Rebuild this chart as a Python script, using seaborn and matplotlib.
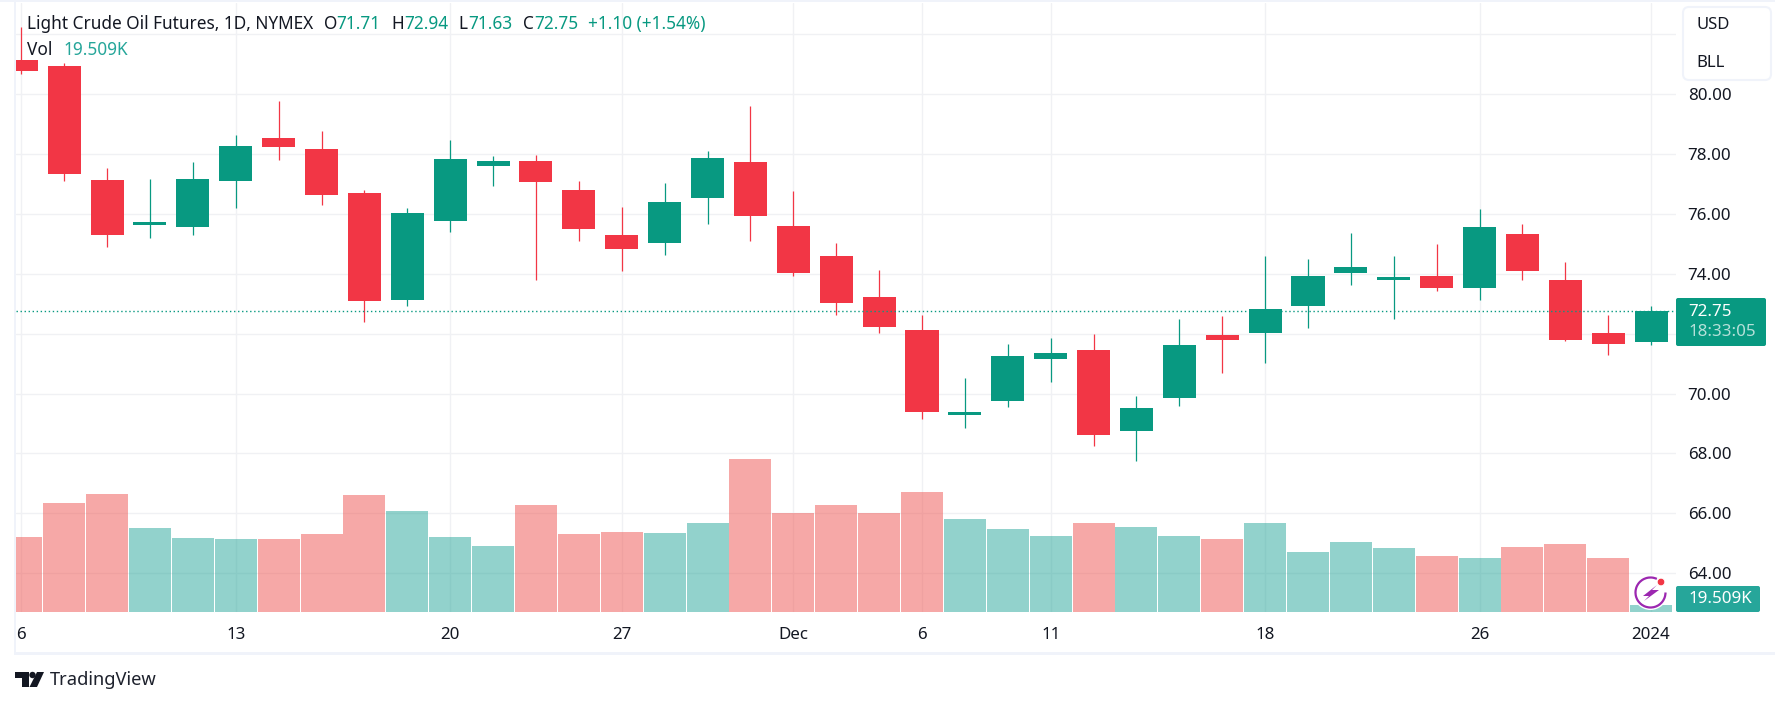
import numpy as np
import pandas as pd
import seaborn as sns
import matplotlib
matplotlib.use("Agg")
import matplotlib.pyplot as plt
from matplotlib.patches import Rectangle, FancyBboxPatch, Polygon, Circle, Arc
from matplotlib.transforms import Affine2D

W, H = 1775, 707

# ohlc, oldest first
opens = [81.14, 80.94, 77.14, 75.64, 75.58, 77.11, 78.54, 78.18, 76.71, 73.11, 75.78, 77.61, 77.78,
         76.81, 75.31, 75.04, 76.54, 77.74, 75.61, 74.61, 73.24, 72.11, 69.28, 69.74, 71.14, 71.44,
         68.74, 69.84, 71.94, 72.04, 72.91, 74.04, 73.81, 73.94, 73.54, 75.34, 73.81, 72.01, 71.71]
highs = [82.23, 81.04, 77.54, 77.18, 77.74, 78.64, 79.78, 78.78, 76.81, 76.21, 78.48, 77.94, 77.98,
         77.11, 76.24, 77.04, 78.11, 79.61, 76.78, 75.04, 74.14, 72.61, 70.51, 71.64, 71.84, 71.98,
         69.91, 72.48, 72.58, 74.61, 74.48, 75.38, 74.61, 75.01, 76.18, 75.68, 74.41, 72.64, 72.94]
lows = [80.69, 77.11, 74.91, 75.21, 75.31, 76.21, 77.81, 76.31, 72.38, 72.94, 75.41, 76.94, 73.81,
        75.08, 74.08, 74.64, 75.68, 75.08, 73.94, 72.64, 72.04, 69.14, 68.84, 69.54, 70.38, 68.24,
        67.74, 69.58, 70.68, 71.01, 72.18, 73.61, 72.48, 73.41, 73.14, 73.78, 71.74, 71.29, 71.63]
closes = [80.78, 77.34, 75.31, 75.74, 77.18, 78.28, 78.24, 76.64, 73.08, 76.04, 77.84, 77.78, 77.08,
          75.51, 74.84, 76.41, 77.88, 75.94, 74.04, 73.04, 72.24, 69.38, 69.38, 71.24, 71.34, 68.61,
          69.51, 71.61, 71.78, 72.84, 73.94, 74.24, 73.91, 73.54, 75.58, 74.11, 71.78, 71.64, 72.75]
# volume in thousands
volumes = [209, 304, 329, 234, 206, 203, 203, 217, 326, 281, 209, 184, 298, 217, 223, 220, 248, 426, 276,
           298, 276, 334, 259, 231, 212, 248, 237, 212, 203, 248, 167, 195, 178, 156, 150, 181, 190, 150, 19.509]

date_ticks = [0, 5, 10, 14, 18, 21, 24, 29, 34, 38]
date_labels = ["6", "13", "20", "27", "Dec", "6", "11", "18", "26", "2024"]
price_ticks = [64, 66, 68, 70, 72, 74, 76, 78, 80, 82]
# 72 sits behind the last price tag and 82 behind the currency box
hidden_price_labels = [72, 82]
last_price = 72.75

RED = "#f23645"
GREEN = "#089981"
VOL_RED = "#ef5350"
VOL_GREEN = "#26a69a"
INK = "#131722"
GRID = "#f0f1f4"
FRAME = "#f0f3fa"

sns.set_theme(style="white")
plt.rcParams["font.family"] = ["Noto Sans", "DejaVu Sans"]

df = pd.DataFrame({"o": opens, "h": highs, "l": lows, "c": closes, "v": volumes})
df["i"] = np.arange(len(df))
df["up"] = df["c"] >= df["o"]
df["side"] = np.where(df["up"], "up", "down")

fig = plt.figure(figsize=(W / 100, H / 100), dpi=100, facecolor="white")
# pane in pixels: x 16..1676, y 3..612
L, R, T, B = 16, 1676, 3, 612
ax = fig.add_axes([L / W, 1 - B / H, (R - L) / W, (B - T) / H])

# pixel coordinates, origin top left, for the page furniture
page = Affine2D().scale(1, -1).translate(0, H)


def txt(x, y, s, color=INK, size=12.2, **kw):
    kw.setdefault("va", "center")
    fig.text(x, y, s, color=color, fontsize=size, transform=page, **kw)


# price pane
for _, row in df.iterrows():
    col = GREEN if row["up"] else RED
    ax.vlines(row["i"], row["l"], row["h"], color=col, lw=0.9, zorder=3)
    ax.bar(row["i"], abs(row["c"] - row["o"]), bottom=min(row["o"], row["c"]), width=0.77,
           color=col, linewidth=0, zorder=4)
ax.axhline(last_price, color=GREEN, lw=1.0, ls=(0, (1, 1.9)), zorder=5)

ax.set_yticks(price_ticks)
ax.set_yticklabels(["" if p in hidden_price_labels else f"{p:.2f}" for p in price_ticks], fontsize=12.2, color=INK)
ax.grid(True, color=GRID, lw=1)
ax.set_axisbelow(True)
for s in ax.spines.values():
    s.set_visible(False)

# volume on a hidden scale, sits over the grid so the lines show through
vax = ax.twinx()
sns.barplot(data=df, x="i", y="v", hue="side", hue_order=["down", "up"], native_scale=True, dodge=False,
            palette={"down": VOL_RED, "up": VOL_GREEN}, saturation=1, alpha=0.5, width=0.978, linewidth=0,
            errorbar=None, legend=False, ax=vax)
vax.set_ylim(0, (B - T) * 2.787)
vax.set_yticks([])
vax.set_ylabel("")
vax.set_xlabel("")
for s in vax.spines.values():
    s.set_visible(False)

# twinx moves the price labels to the left, put them back
ax.yaxis.tick_right()
ax.tick_params(axis="y", length=0, pad=8.4)
ax.tick_params(axis="x", length=0, pad=11, labelsize=12.2, labelcolor=INK)

ax.set_xlim((L - 21.3) / 42.89, (R - 21.3) / 42.89)
ax.set_ylim(82 - (B - 34.3) / 29.94, 82 + (34.3 - T) / 29.94)
ax.set_xticks(date_ticks)
ax.set_xticklabels(date_labels)
for lab in ax.get_xticklabels():
    if lab.get_text() == "2024":
        lab.set_fontweight("bold")
ax.set_xlabel("")

# frame bands
for x, y, w, h in [(0, 0, W, 2), (14, 0, 2, 654), (14, 652, W - 14, 3)]:
    fig.add_artist(Rectangle((x, y), w, h, color=FRAME, lw=0, transform=page))

# header
hs = 12.4
txt(27, 24, "Light Crude Oil Futures, 1D, NYMEX", size=hs)
for x, s in [(324, "O"), (391.5, "H"), (458.5, "L"), (522.5, "C")]:
    txt(x, 24, s, size=hs)
for x, s in [(336.5, "71.71"), (404, "72.94"), (468.5, "71.63"), (534, "72.75"), (588, "+1.10 (+1.54%)")]:
    txt(x, 24, s, color=GREEN, size=hs)
txt(27, 50, "Vol", size=hs)
txt(63.5, 50, "19.509K", color=VOL_GREEN, size=hs)

# currency / unit box
fig.add_artist(FancyBboxPatch((1683, 7), 88, 73, boxstyle="round,pad=0,rounding_size=6", fc="white",
                              ec=FRAME, lw=1.5, transform=page))
txt(1696.5, 25, "USD", size=12)
txt(1696.5, 63, "BLL", size=12)

# last price and volume tags
fig.add_artist(FancyBboxPatch((1676, 298), 90, 48, boxstyle="round,pad=0,rounding_size=2", fc=GREEN, lw=0,
                              transform=page))
txt(1688, 312, "72.75", color="white", size=12.2, fontweight="bold")
txt(1688, 332, "18:33:05", color="#b5e0d9", size=12.2, fontweight="bold")
fig.add_artist(FancyBboxPatch((1676, 586), 84, 26, boxstyle="round,pad=0,rounding_size=2", fc=VOL_GREEN, lw=0,
                              transform=page))
txt(1688, 599, "19.509K", color="white", size=12.2, fontweight="bold")

# lightning badge
PURPLE = "#9c27b0"
fig.add_artist(Circle((1650.5, 592.5), 17.5, fc="white", lw=0, transform=page))
fig.add_artist(Arc((1650.5, 592.5), 30, 30, theta1=0, theta2=295, ec=PURPLE, lw=1.6, transform=page))
fig.add_artist(Polygon([(1657, 585), (1643, 596), (1649, 596), (1644, 601), (1659, 590), (1652, 590)],
                       closed=True, fc=PURPLE, lw=0, transform=page))
fig.add_artist(Circle((1661, 582), 3.8, fc=RED, ec="white", lw=0.6, transform=page))

# TradingView mark
for pts in [[(15, 672), (29, 672), (29, 687), (22, 687), (22, 678), (15, 678)],
            [(37, 672), (44, 672), (37, 687), (29.5, 687)]]:
    fig.add_artist(Polygon(pts, closed=True, fc=INK, lw=0, transform=page))
fig.add_artist(Circle((32.5, 675), 3.2, fc=INK, lw=0, transform=page))
txt(50, 680, "TradingView", size=13.2, color="#1e222d")

fig.savefig("out.png", dpi=100)
